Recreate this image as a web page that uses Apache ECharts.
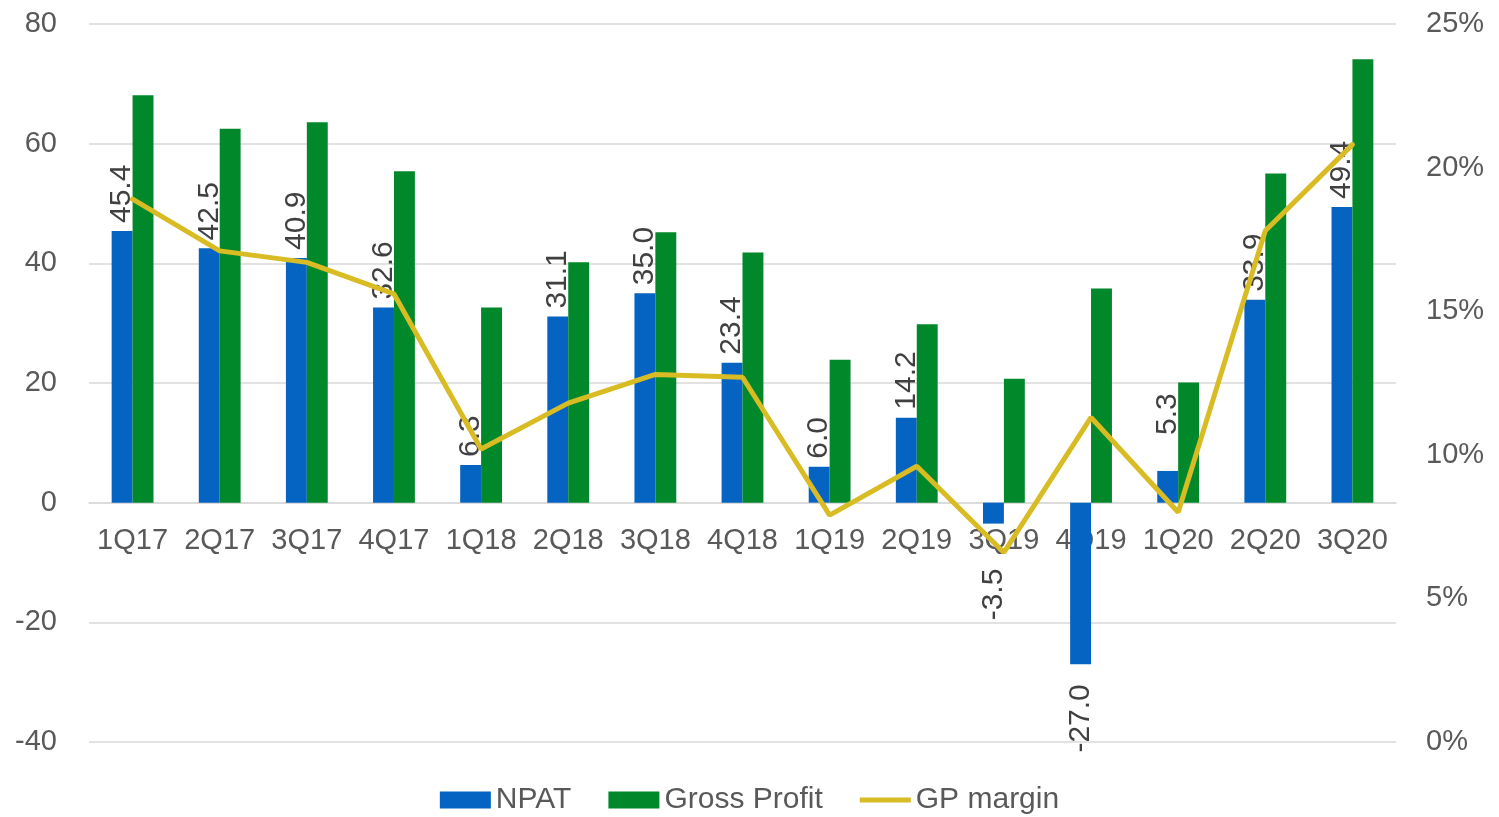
<!DOCTYPE html>
<html>
<head>
<meta charset="utf-8">
<script src="https://cdn.jsdelivr.net/npm/echarts@6/dist/echarts.min.js"></script>
<style>html,body{margin:0;padding:0;background:#fff}#c{width:1499px;height:817px}</style>
</head>
<body>
<div id="c"></div>
<script>
const categories = ['1Q17','2Q17','3Q17','4Q17','1Q18','2Q18','3Q18','4Q18','1Q19','2Q19','3Q19','4Q19','1Q20','2Q20','3Q20'];
const npat = [45.4, 42.5, 40.9, 32.6, 6.3, 31.1, 35.0, 23.4, 6.0, 14.2, -3.5, -27.0, 5.3, 33.9, 49.4];
const grossProfit = [68.1, 62.5, 63.6, 55.4, 32.6, 40.2, 45.2, 41.8, 23.9, 29.8, 20.7, 35.8, 20.1, 55.0, 74.1];
const gpMargin = [18.9, 17.1, 16.7, 15.6, 10.2, 11.8, 12.8, 12.7, 7.9, 9.6, 6.6, 11.3, 8.0, 17.8, 20.8];
const leftTicks = [-40, 80, 20];
const rightTicks = [0, 25, 5];

const FONT = '"Liberation Sans", Arial, sans-serif';
const AXIS_COLOR = '#595959';
const LABEL_COLOR = '#404040';
const GRID = { left: 89, right: 103, top: 24, bottom: 75 };
const H = 817;
// label distances (px) for the few labels Excel pushed away from the bar
const labelDistance = { 10: 45, 11: 20, 12: 36 };

const npatData = npat.map((v, i) => {
  const d = labelDistance[i] != null ? labelDistance[i] : 8;
  if (v < 0) return { value: v, label: { position: 'bottom', align: 'right', distance: d } };
  return { value: v, label: { distance: d } };
});

const chart = echarts.init(document.getElementById('c'));
const option = {
  animation: false,
  textStyle: { fontFamily: FONT },
  grid: Object.assign({ containLabel: false }, GRID),
  legend: {
    bottom: -3,
    left: 'center',
    itemWidth: 51,
    itemHeight: 17,
    itemGap: 37,
    textStyle: { fontSize: 30, color: AXIS_COLOR, fontFamily: FONT },
    data: [{ name: 'NPAT', icon: 'rect' }, { name: 'Gross Profit', icon: 'rect' }, {
      name: 'GP margin',
      icon: 'path://M0,0L0.1,0L0.1,0.1Z M0,60L510,60L510,110L0,110Z M510,170L509.9,170L509.9,169.9Z'
    }]
  },
  xAxis: {
    type: 'category',
    data: categories,
    offset: 0,
    axisLine: { show: true, onZero: false, lineStyle: { color: '#d9d9d9', width: 1.5 } },
    axisTick: { show: false },
    axisLabel: { color: AXIS_COLOR, fontSize: 29, margin: 24, interval: 0, fontFamily: FONT },
    z: 0
  },
  yAxis: [{
    type: 'value',
    min: leftTicks[0], max: leftTicks[1], interval: leftTicks[2],
    axisLine: { show: false }, axisTick: { show: false },
    splitLine: { lineStyle: { color: '#d9d9d9', width: 1.5 } },
    axisLabel: { color: AXIS_COLOR, fontSize: 29, margin: 32, fontFamily: FONT }
  }, {
    type: 'value',
    min: rightTicks[0], max: rightTicks[1], interval: rightTicks[2],
    axisLine: { show: false }, axisTick: { show: false },
    splitLine: { show: false },
    axisLabel: { color: AXIS_COLOR, fontSize: 29, margin: 30, fontFamily: FONT, formatter: v => v + '%' }
  }],
  series: [{
    name: 'NPAT',
    type: 'bar',
    data: npatData,
    barGap: '0%',
    barCategoryGap: '52%',
    itemStyle: { color: '#0563C1' },
    label: {
      show: true, position: 'top', rotate: 90, align: 'left', verticalAlign: 'middle',
      distance: 8, fontSize: 30, color: LABEL_COLOR, fontFamily: FONT,
      formatter: p => Number(p.value).toFixed(1)
    },
    z: 2
  }, {
    name: 'Gross Profit',
    type: 'bar',
    data: grossProfit,
    itemStyle: { color: '#00882B' },
    z: 2
  }, {
    name: 'GP margin',
    type: 'line',
    yAxisIndex: 1,
    data: gpMargin,
    symbol: 'none',
    lineStyle: { color: '#D9BC24', width: 5, cap: 'round' },
    itemStyle: { color: '#D9BC24' },
    z: 3
  }]
};
chart.setOption(option);
// move the category axis onto the zero line of the left value axis
const zeroY = chart.convertToPixel({ yAxisIndex: 0 }, 0);
const bottomY = H - GRID.bottom;
chart.setOption({ xAxis: { offset: zeroY - bottomY } });
</script>
</body>
</html>
